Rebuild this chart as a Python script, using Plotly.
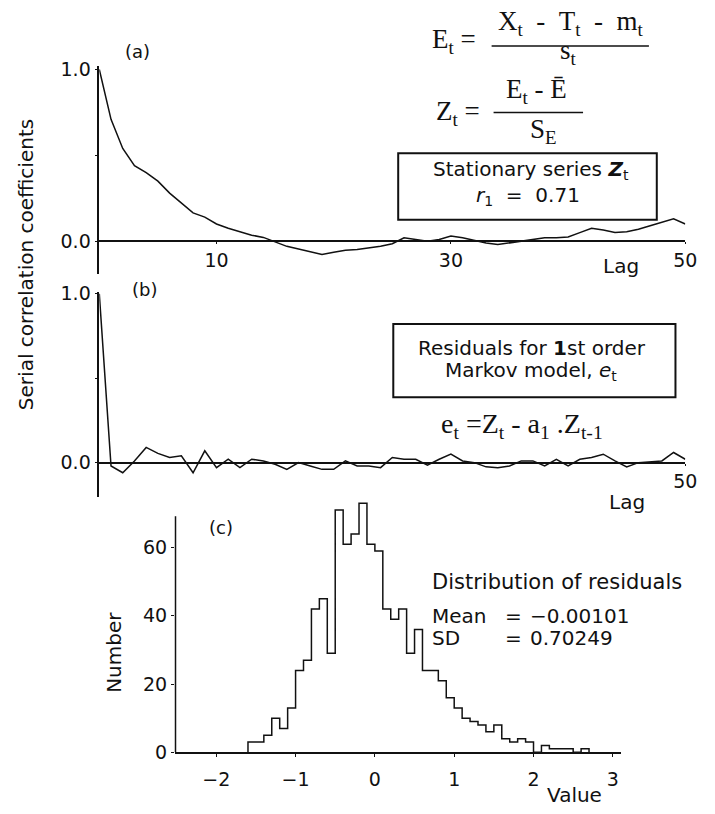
import plotly.graph_objects as go

W, H = 715, 814

# ---------------- data ----------------
lags = list(range(51))
acf_z = [1.0, 0.71, 0.54, 0.44, 0.40, 0.35, 0.28, 0.22, 0.165, 0.14, 0.10,
         0.075, 0.055, 0.035, 0.022, -0.005, -0.03, -0.045, -0.06, -0.078, -0.065,
         -0.053, -0.048, -0.04, -0.03, -0.015, 0.02, 0.01, 0.0, 0.01, 0.03,
         0.02, 0.005, -0.01, -0.02, -0.01, 0.0, 0.01, 0.02, 0.02, 0.025,
         0.05, 0.075, 0.065, 0.05, 0.055, 0.07, 0.09, 0.11, 0.13, 0.10]
acf_e = [1.0, -0.02, -0.06, 0.01, 0.09, 0.055, 0.03, 0.04, -0.06, 0.07, -0.03,
         0.02, -0.03, 0.02, 0.01, -0.01, -0.04, 0.0, -0.02, -0.04, -0.04,
         0.01, -0.02, -0.02, -0.03, 0.03, 0.02, 0.02, -0.015, 0.02, 0.05,
         0.01, 0.0, -0.025, -0.03, -0.02, 0.01, 0.01, -0.02, 0.02, -0.02,
         0.02, 0.03, 0.05, 0.01, -0.025, 0.0, 0.005, 0.01, 0.06, 0.02]
hist_edges = [-1.6, -1.5, -1.4, -1.3, -1.2, -1.1, -1.0, -0.9, -0.8, -0.7, -0.6,
              -0.5, -0.4, -0.3, -0.2, -0.1, 0.0, 0.1, 0.2, 0.3, 0.4, 0.5,
              0.6, 0.7, 0.8, 0.9, 1.0, 1.1, 1.2, 1.3, 1.4, 1.5, 1.6, 1.7,
              1.8, 1.9, 2.0, 2.1, 2.2, 2.3, 2.4, 2.5, 2.6, 2.7]
hist_counts = [3, 3, 5, 10, 7, 13, 24, 27, 42, 45, 29, 71, 61, 64, 73, 61, 59,
               42, 39, 42, 29, 36, 24, 24, 21, 16, 13, 10, 9, 8, 6, 8, 4, 3,
               4, 3, 0, 2, 1, 1, 1, 0, 1]
lag_ticks_a = [10, 30, 50]
lag_ticks_b = [50]
value_ticks = [-2, -1, 0, 1, 2, 3]
number_ticks = [0, 20, 40, 60]

SANS = "DejaVu Sans"
SERIF = "Liberation Serif"
INK = "#111111"
NB = "\u00a0"


def px(x):
    return x / W


def py(y):
    return 1 - y / H


# step outline for histogram
step_x = [hist_edges[0]] + hist_edges
step_y = [0] + hist_counts + [0]

fig = go.Figure()
fig.add_trace(go.Scatter(x=lags, y=acf_z, mode="lines", xaxis="x", yaxis="y",
                         line=dict(color=INK, width=1.5), showlegend=False))
fig.add_trace(go.Scatter(x=lags, y=acf_e, mode="lines", xaxis="x2", yaxis="y2",
                         line=dict(color=INK, width=1.5), showlegend=False))
fig.add_trace(go.Scatter(x=step_x, y=step_y, mode="lines", xaxis="x3", yaxis="y3",
                         line=dict(color=INK, width=1.5, shape="hv"), showlegend=False))

tickfont = dict(family=SANS, size=19, color=INK)
common_x = dict(showgrid=False, zeroline=False, ticks="outside", ticklen=3,
                tickwidth=1.2, tickcolor=INK, tickfont=tickfont, showline=False)
common_y = dict(showgrid=False, ticks="outside", ticklen=3, tickwidth=1.2,
                tickcolor=INK, tickfont=tickfont, showline=True, linecolor=INK,
                linewidth=1.5)

fig.update_layout(
    width=W, height=H, margin=dict(l=0, r=0, t=0, b=0),
    paper_bgcolor="white", plot_bgcolor="rgba(0,0,0,0)",
    xaxis=dict(common_x, domain=[px(101), px(697)], range=[0, 50], anchor="free",
               position=py(238), tickvals=lag_ticks_a, ticklen=2, ticklabelstandoff=0),
    yaxis=dict(common_y, domain=[py(272), py(58)], range=[-0.193, 1.023], anchor="x",
               tickvals=[0, 0.5, 1], ticktext=["0.0", "", "1.0"],
               zeroline=True, zerolinecolor=INK, zerolinewidth=1.5),
    xaxis2=dict(common_x, domain=[px(101), px(697)], range=[0, 50], anchor="free",
                position=py(465), tickvals=lag_ticks_b, ticklen=2, ticklabelstandoff=0),
    yaxis2=dict(common_y, domain=[py(500), py(290)], range=[-0.202, 1.0116], anchor="x2",
                tickvals=[0, 0.5, 1], ticktext=["0.0", "", "1.0"],
                zeroline=True, zerolinecolor=INK, zerolinewidth=1.5),
    xaxis3=dict(common_x, domain=[px(178), px(632)], range=[-2.52, 3.108], anchor="y3",
                tickvals=value_ticks, showline=True, linecolor=INK, linewidth=1.5,
                ticklabelstandoff=6),
    yaxis3=dict(common_y, domain=[py(762), py(499)], range=[0, 75.2], anchor="x3",
                tickvals=number_ticks, showline=False, zeroline=False),
)

shapes = []
# y-axis line of histogram (stops below the tallest bars)
shapes.append(dict(type="line", xref="paper", yref="paper", x0=px(178.5), x1=px(178.5),
                   y0=py(762), y1=py(520), line=dict(color=INK, width=1.5)))
# boxes
shapes.append(dict(type="rect", xref="paper", yref="paper", x0=px(405), x1=px(668),
                   y0=py(216), y1=py(148), line=dict(color=INK, width=2)))
shapes.append(dict(type="rect", xref="paper", yref="paper", x0=px(400), x1=px(687),
                   y0=py(398), y1=py(323), line=dict(color=INK, width=2)))
# fraction bars
shapes.append(dict(type="line", xref="paper", yref="paper", x0=px(500), x1=px(660),
                   y0=py(38), y1=py(38), line=dict(color=INK, width=1.5)))
shapes.append(dict(type="line", xref="paper", yref="paper", x0=px(502), x1=px(593),
                   y0=py(106), y1=py(106), line=dict(color=INK, width=1.5)))
fig.update_layout(shapes=shapes)


def ann(text, x, y, size=19, family=SANS, xanchor="center", yanchor="middle", angle=0):
    return dict(text=text, x=px(x), y=py(y), xref="paper", yref="paper",
                showarrow=False, xanchor=xanchor, yanchor=yanchor, textangle=angle,
                font=dict(family=family, size=size, color=INK))


annotations = [
    ann("Serial correlation coefficients", 26, 262, size=20, angle=-90),
    ann("Number", 116, 660, size=20, angle=-90),
    ann("(a)", 140, 44, size=18),
    ann("(b)", 147, 288, size=18),
    ann("(c)", 225, 532, size=18),
    ann("Lag", 632, 263, size=20),
    ann("Lag", 638, 505, size=20),
    ann("Value", 584, 806, size=20),
    ann("Stationary series <b><i>Z</i></b><sub>t</sub>", 540, 165, size=20),
    ann("<i>r</i><sub>1</sub>" + NB + " = " + NB + "0.71", 537, 192, size=20),
    ann("Residuals for <b>1</b>st order", 541, 348, size=20),
    ann("Markov model, <i>e</i><sub>t</sub>", 540, 371, size=20),
    ann("Distribution of residuals", 437, 587, size=21, xanchor="left"),
    ann("Mean", 437, 622, size=20, xanchor="left"),
    ann("SD", 437, 645, size=20, xanchor="left"),
    ann("=", 512, 622, size=20, xanchor="left"),
    ann("=", 512, 645, size=20, xanchor="left"),
    ann("\u22120.00101", 537, 622, size=20, xanchor="left"),
    ann("0.70249", 537, 645, size=20, xanchor="left"),
    # equations
    ann("E<sub>t</sub> =", 462, 33, size=27, family=SERIF),
    ann("X<sub>t</sub>" + NB + " - " + NB + "T<sub>t</sub>" + NB + " - " + NB + "m<sub>t</sub>",
        580, 14, size=27, family=SERIF),
    ann("s<sub>t</sub>", 578, 44, size=27, family=SERIF),
    ann("Z<sub>t</sub> =", 466, 107, size=27, family=SERIF),
    ann("E<sub>t</sub> - \u0112", 546, 84, size=27, family=SERIF),
    ann("S<sub>E</sub>", 553, 125, size=27, family=SERIF),
    ann("e<sub>t</sub> =Z<sub>t</sub>" + NB + "- a<sub>1</sub>" + NB + ".Z<sub>t-1</sub>",
        531, 427, size=28, family=SERIF),
]
fig.update_layout(annotations=annotations)

fig.write_html("out.html")
